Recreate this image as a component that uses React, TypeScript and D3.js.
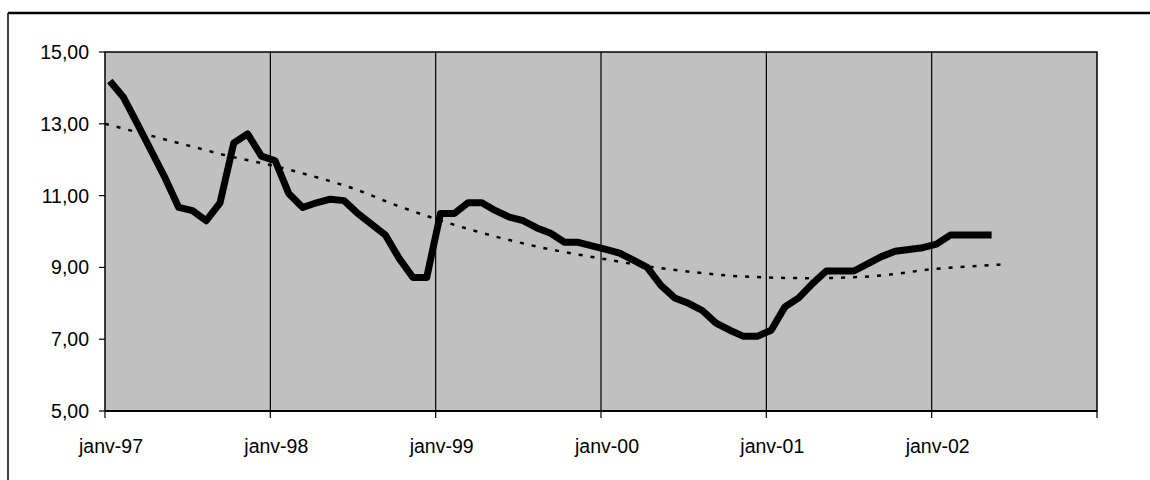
import * as d3 from "d3";

// monthly values, starting janv-97
const rateValues = [
  14.19, 13.73, 13.0, 12.25, 11.5, 10.67, 10.58, 10.3, 10.8, 12.47, 12.72, 12.1,
  11.97, 11.05, 10.67, 10.8, 10.9, 10.86, 10.5, 10.2, 9.9, 9.25, 8.72, 8.72,
  10.5, 10.5, 10.8, 10.8, 10.58, 10.4, 10.3, 10.1, 9.95, 9.7, 9.7, 9.6,
  9.5, 9.4, 9.2, 9.0, 8.5, 8.15, 8.0, 7.8, 7.45, 7.25, 7.08, 7.08,
  7.25, 7.9, 8.15, 8.55, 8.9, 8.9, 8.9, 9.1, 9.3, 9.45, 9.5, 9.55,
  9.65, 9.9, 9.9, 9.9, 9.9,
];
// trend line read every quarter (month index, value)
const trendMonths = [0, 3, 6, 9, 12, 15, 18, 21, 24, 27, 30, 33, 36, 39, 42, 45, 48, 51, 54, 57, 60, 63, 65];
const trendValues = [13.0, 12.7, 12.4, 12.1, 11.85, 11.55, 11.2, 10.75, 10.35, 10.0, 9.7, 9.45, 9.25, 9.05, 8.9, 8.78, 8.72, 8.7, 8.72, 8.8, 8.95, 9.03, 9.08];
const yearLabels = ["janv-97", "janv-98", "janv-99", "janv-00", "janv-01", "janv-02", ""];
const yTicks = [5, 7, 9, 11, 13, 15];

export default function App() {
  const W = 1150, H = 480;
  const left = 105, right = 1097, top = 52, bottom = 411;
  const x = d3.scaleLinear().domain([0, 72]).range([left, right]);
  const y = d3.scaleLinear().domain([5, 15]).range([bottom, top]);
  const fmt = (v: number) => d3.format(".2f")(v).replace(".", ",");

  const line = d3.line<number>().x((_, i) => x(i + 0.35)).y((d) => y(d));
  const trend = d3
    .line<number>()
    .x((_, i) => x(trendMonths[i]))
    .y((d) => y(d))
    .curve(d3.curveMonotoneX);

  return (
    <svg
      width={W}
      height={H}
      style={{ position: "absolute", left: 0, top: 0, fontFamily: "Liberation Sans, Arial, sans-serif" }}
    >
      <rect x={0} y={0} width={W} height={H} fill="#fff" />
      <line x1={8} x2={W} y1={13} y2={13} stroke="#000" strokeWidth={2.5} />
      <line x1={8} x2={8} y1={13} y2={H} stroke="#000" strokeWidth={1.5} />
      <rect x={left} y={top} width={right - left} height={bottom - top} fill="#c0c0c0" stroke="#000" strokeWidth={1.5} />
      {yearLabels.map((lab, i) => (
        <g key={i}>
          {i > 0 && i < 6 && <line x1={x(i * 12)} x2={x(i * 12)} y1={top} y2={bottom} stroke="#000" strokeWidth={1.2} />}
          <line x1={x(i * 12)} x2={x(i * 12)} y1={bottom} y2={bottom + 7} stroke="#000" strokeWidth={1.2} />
          <text x={x(i * 12) + 6} y={bottom + 42} textAnchor="middle" fontSize={19.5}>{lab}</text>
        </g>
      ))}
      {yTicks.map((t) => (
        <g key={t}>
          <line x1={left - 6} x2={left} y1={y(t)} y2={y(t)} stroke="#000" strokeWidth={1.2} />
          <text x={left - 16} y={y(t) + 7} textAnchor="end" fontSize={19.5}>{fmt(t)}</text>
        </g>
      ))}
      <line x1={left} x2={right} y1={bottom} y2={bottom} stroke="#000" strokeWidth={2} />
      <path d={trend(trendValues) ?? ""} fill="none" stroke="#000" strokeWidth={2.5} strokeDasharray="4 8" />
      <path d={line(rateValues) ?? ""} fill="none" stroke="#000" strokeWidth={7} strokeLinejoin="round" />
    </svg>
  );
}
